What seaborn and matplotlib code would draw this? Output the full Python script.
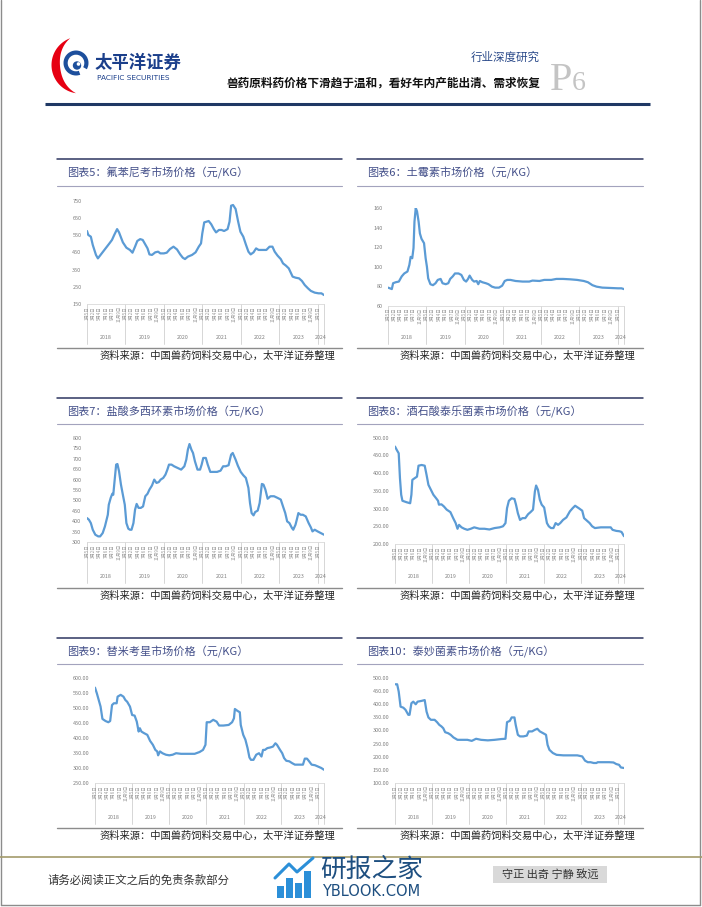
import matplotlib
matplotlib.use("Agg")
import matplotlib.pyplot as plt
from matplotlib.patches import Circle, Polygon, Rectangle, Wedge
import numpy as np
import pandas as pd
import seaborn as sns

# ---- data: months since Jan 2018, price (元/KG) ----
FLOR_M = [0, 0.4, 1.2, 1.8, 2.8, 3.4, 4.6, 5.8, 7.0, 7.8, 8.5, 9.4, 10, 11.2, 12.3,
          13.4, 14.2, 15, 15.7, 16.6, 17.4, 18.2, 18.9, 19.5, 20.3, 21.3, 22.2, 22.9, 24, 24.9,
          25.9, 27, 28.1, 29.1, 29.9, 30.6, 31.5, 32.8, 33.9, 34.9, 35.6, 36, 36.6, 38, 38.8,
          39.6, 40.3, 41.2, 42, 42.8, 43.9, 44.5, 45, 45.6, 46.4, 47.2, 47.9, 48.8, 49.6, 50.4,
          51.1, 52, 52.8, 53.6, 54.6, 56, 57, 57.9, 58.6, 59.5, 60.5, 61.2, 62.1, 63, 64.2,
          65.1, 66.2, 67.1, 68, 69, 69.9, 71.1, 72.3, 73.2, 74]
FLOR_P = [574, 551, 541, 493, 435, 415, 444, 473, 502, 522, 551, 585, 566, 508, 477,
          464, 448, 483, 516, 527, 522, 496, 473, 438, 435, 450, 454, 444, 444, 448,
          469, 483, 467, 438, 419, 411, 425, 435, 450, 483, 502, 560, 624, 632, 613,
          585, 566, 580, 580, 574, 585, 628, 721, 725, 702, 628, 570, 541, 496, 454,
          438, 450, 473, 464, 464, 464, 483, 483, 454, 431, 411, 386, 373, 357, 309,
          303, 299, 284, 260, 241, 226, 216, 212, 212, 202]

OXY_M = [0, 0.6, 1.2, 1.6, 2.4, 3.4, 4.3, 5.1, 6.1, 6.7, 7.1, 7.6, 8, 8.3, 8.7,
         9.1, 9.6, 10, 10.5, 11.3, 11.8, 12.2, 12.6, 13.3, 14.1, 14.9, 15.6, 16.5, 17.1, 18.1,
         18.9, 19.5, 20.3, 21, 22.1, 23, 23.8, 24.5, 25.1, 25.6, 26.4, 27, 27.8, 28.3, 28.8,
         29.6, 30.7, 31.5, 32.6, 33.6, 34.8, 35.8, 36.6, 37.4, 38.4, 40, 42.2, 44.3, 45.3, 47.5,
         49, 51.2, 52.8, 54.9, 57.1, 59.3, 61.4, 62.7, 64.1, 65.4, 67.2, 69.4, 72.1, 73.2, 74]
OXY_P = [78.5, 77.8, 77, 83, 84, 84.7, 90, 93, 95, 101.8, 110, 108.6, 119, 146, 160,
         156.6, 146, 134, 128.5, 124, 108.6, 100, 88, 82, 81, 83, 86.4, 87.4, 83, 82,
         83, 87.4, 90, 93, 93, 91.5, 86.4, 84.7, 87.4, 90.8, 86.4, 84.7, 85.3, 82, 85.3,
         84, 83, 82, 79.5, 78.5, 78.5, 80.5, 85.3, 86.4, 86.4, 85.3, 84.7, 84.7, 85.7, 85.3,
         86.4, 86.4, 87.4, 87.4, 87, 86.4, 85.3, 84, 81, 79.5, 78.5, 78.2, 77.8, 77.8, 77]

DOXY_M = [0, 0.6, 1.2, 1.8, 2.6, 3.5, 4.1, 4.9, 5.6, 6.5, 6.8, 7.4, 7.9, 8.2, 8.6,
          9.1, 9.5, 10, 10.6, 11.2, 11.8, 12.3, 12.9, 13.4, 13.9, 14.5, 15, 15.5, 16.1, 16.8,
          17.5, 18.2, 18.9, 19.5, 20.3, 21, 21.7, 22.4, 23, 23.8, 24.5, 25.1, 25.6, 26.4, 27.2,
          28.3, 29.4, 30.4, 31, 31.5, 32, 32.6, 33.1, 33.7, 34.5, 35.3, 35.8, 36.3, 37.1, 37.7,
          38.5, 39.6, 40.6, 41.7, 42.5, 43.3, 44.2, 45, 45.5, 46.4, 47.1, 48, 48.8, 49.6, 50.4,
          50.9, 51.4, 52, 52.5, 53.3, 53.9, 54.6, 55.1, 55.7, 56.4, 57.3, 58.4, 59.5, 60.5, 61.2,
          61.9, 62.5, 63.2, 64, 64.4, 65.1, 65.5, 66, 66.7, 67.4, 68.3, 69.2, 69.9, 70.4, 71.1,
          72, 73, 74]
DOXY_P = [415, 407, 391, 359, 335, 327, 327, 343, 375, 431, 479, 512, 532, 527, 592,
          672, 675, 640, 576, 527, 479, 391, 364, 359, 359, 391, 455, 483, 464, 464,
          471, 520, 532, 552, 572, 600, 584, 588, 600, 608, 624, 648, 672, 672, 664,
          656, 648, 664, 696, 744, 771, 744, 728, 688, 648, 648, 672, 704, 704, 672,
          637, 637, 637, 643, 664, 664, 669, 720, 728, 696, 667, 637, 621, 608, 560,
          487, 439, 428, 444, 451, 487, 579, 576, 552, 508, 520, 520, 512, 504, 471,
          439, 399, 391, 367, 359, 383, 407, 439, 431, 431, 423, 391, 370, 351, 359,
          351, 343, 335]

TYL_M = [0, 0.6, 1.2, 1.6, 2, 2.4, 3.7, 4.9, 5.3, 5.6, 6.4, 7.1, 7.6, 8.6, 9.6,
         10.2, 10.8, 11.6, 12.4, 13.3, 13.9, 14.2, 15, 15.8, 16.7, 17.9, 18.8, 19.6, 20.2, 20.7,
         21.5, 22.4, 23.4, 24.5, 25.6, 27.3, 28.9, 30.5, 32.2, 33.8, 34.9, 35.7, 36.2, 36.8, 37.7,
         38.6, 39.1, 39.7, 40.4, 41.2, 42.1, 43, 43.8, 44.6, 45.2, 45.6, 46.2, 46.8, 47.4, 48.2,
         48.8, 49.1, 49.7, 50.4, 51.2, 51.9, 52.7, 53.4, 54.3, 55.4, 56.5, 57.4, 58.2, 59.4, 60.5,
         61.1, 62, 62.9, 63.7, 64.6, 66.5, 68.3, 69.7, 70.3, 71.5, 72.5, 73.2, 74]
TYL_P = [475, 465, 456, 386, 339, 322, 318, 315, 339, 381, 386, 390, 421, 423, 421,
         395, 367, 353, 339, 329, 322, 311, 312, 306, 297, 290, 273, 259, 243, 254,
         247, 243, 240, 243, 247, 243, 243, 241, 245, 247, 250, 259, 301, 322, 329,
         327, 311, 287, 268, 273, 273, 284, 290, 297, 348, 365, 353, 325, 311, 303,
         273, 259, 250, 245, 245, 259, 254, 259, 268, 275, 292, 301, 308, 301, 294,
         273, 266, 259, 250, 245, 247, 247, 247, 240, 237, 236, 234, 222]

TIL_M = [0, 0.6, 1.2, 1.8, 2.4, 3.4, 4.3, 4.9, 5.5, 6.1, 7, 7.3, 8.3, 9.2, 9.8,
         10.4, 11.3, 12, 12.8, 13.5, 14.1, 14.5, 15, 15.8, 16.9, 17.8, 18.7, 19.5, 20.1, 20.4,
         21, 21.8, 22.9, 24, 25.1, 26.2, 27.8, 30, 32.2, 33.8, 34.9, 35.7, 36.1, 37.1, 38.2,
         39.3, 40.1, 41.5, 43.2, 44.3, 44.9, 45.2, 46, 46.8, 47.1, 47.9, 48.6, 49.3, 49.9, 50.4,
         51.2, 52.1, 53, 53.8, 54.3, 54.9, 55.7, 56.6, 57.5, 58.3, 58.8, 59.8, 60.5, 61.1, 61.8,
         62.8, 63.7, 64.6, 66, 67.2, 67.8, 68.5, 69.2, 70, 71.1, 72, 73.1, 74]
TIL_P = [567, 548, 526, 504, 463, 456, 452, 456, 509, 515, 515, 537, 543, 537, 526,
         520, 504, 476, 474, 454, 421, 432, 421, 416, 410, 390, 377, 360, 355, 342,
         355, 349, 344, 342, 344, 349, 347, 347, 347, 353, 360, 377, 452, 452, 460,
         454, 441, 441, 443, 452, 465, 496, 490, 485, 443, 410, 394, 366, 335, 327,
         327, 344, 349, 338, 360, 360, 366, 368, 371, 382, 377, 360, 349, 333, 324,
         322, 316, 311, 311, 311, 331, 331, 322, 311, 309, 305, 300, 294]

TIA_M = [0, 0.7, 1.2, 1.8, 2.7, 3.4, 4.3, 4.7, 5.3, 5.9, 6.7, 7.3, 8.6, 9.6, 10.2,
         10.8, 11.6, 12.8, 13.6, 14.3, 15, 15.6, 16.2, 17.2, 18, 18.9, 20.2, 21.8, 23.4, 24.8,
         26.2, 27.8, 30, 32.2, 34.4, 35.7, 36.2, 37.1, 37.7, 38.6, 39, 39.7, 40.4, 41.5, 42.6,
         43.2, 44.3, 45.2, 46, 46.8, 47.9, 48.8, 49.3, 49.9, 51, 52.2, 54.4, 56.6, 58.9, 60.5,
         61.4, 62.3, 63.2, 64.2, 65.1, 65.5, 67.4, 69.2, 70.6, 71.5, 72.4, 73, 74]
TIA_P = [475, 475, 447, 390, 386, 378, 359, 359, 403, 409, 399, 409, 412, 415, 371,
         349, 340, 340, 331, 321, 315, 308, 293, 289, 283, 273, 264, 264, 264, 260,
         268, 264, 262, 264, 267, 268, 331, 336, 349, 349, 321, 283, 277, 277, 280,
         296, 296, 302, 306, 296, 289, 283, 245, 226, 214, 207, 205, 205, 205, 201,
         185, 179, 179, 176, 176, 179, 179, 179, 178, 172, 169, 159, 157]

YEARS = ["2018", "2019", "2020", "2021", "2022", "2023", "2024"]
YEAR_START = [0, 12, 24, 36, 48, 60, 72]
END_MONTH = 74
TICK_LABELS = ["1月5日", "3月2日", "5月4日", "7月6日", "9月7日", "11月9日"]
SOURCE = "资料来源：中国兽药饲料交易中心，太平洋证券整理"

W, H = 702, 907
LINE = "#5b9bd5"
GRAY = "#7f7f7f"

sns.set_theme(style="white")
plt.rcParams["font.family"] = ["Noto Sans CJK SC", "DejaVu Sans"]

fig = plt.figure(figsize=(W / 100, H / 100), dpi=100)
bg = fig.add_axes([0, 0, 1, 1])
bg.set_xlim(0, W)
bg.set_ylim(H, 0)
bg.axis("off")

# page frame
bg.plot([1, 1], [0, 905], color="#8c8c8c", lw=1)
bg.plot([700, 700], [0, 905], color="#8c8c8c", lw=1)
bg.plot([1, 700], [905, 905], color="#8c8c8c", lw=1)

# ---- header ----
t = np.linspace(110, 262, 60)
frac = (t - t[0]) / (t[-1] - t[0])
thick = 8.5 * np.sin(np.pi * frac)
cx, cy, R = 80, 65, 28.5
outer = np.c_[cx + R * np.cos(np.radians(t)), cy - R * np.sin(np.radians(t))]
inner = np.c_[cx + (R - thick) * np.cos(np.radians(t)), cy - (R - thick) * np.sin(np.radians(t))]
bg.add_patch(Polygon(np.vstack([outer, inner[::-1]]), closed=True, color="#e60012", lw=0))
bg.add_patch(Wedge((76, 63), 12.5, 70, 390, width=4.2, color="#1d4f9c", lw=0))
bg.add_patch(Circle((77, 65.5), 4.2, color="#1d4f9c", lw=0))
bg.add_patch(Circle((78.5, 64), 1.8, color="white", lw=0))

bg.text(95, 63, "太平洋证券", fontsize=12.5, fontweight="bold", color="#1b3f8b",
        ha="left", va="center")
bg.text(97, 77.5, "PACIFIC SECURITIES", fontsize=5.3, color="#1b3f8b",
        family=["DejaVu Sans"], ha="left", va="center")
bg.text(540, 57, "行业深度研究", fontsize=8.3, color="#2b4a8a", ha="right", va="center")
bg.text(540, 83, "兽药原料药价格下滑趋于温和，看好年内产能出清、需求恢复", fontsize=8.4,
        fontweight="bold", color="#111111", ha="right", va="center")
bg.text(550, 90, "P", fontsize=29, color="#c4c4c4", family=["Liberation Serif"],
        ha="left", va="baseline")
bg.text(572, 90, "6", fontsize=20, color="#c4c4c4", family=["Liberation Serif"],
        ha="left", va="baseline")
bg.plot([45, 650], [104, 104], color="#1f3864", lw=2.2, solid_capstyle="butt")

# ---- panels ----
ROW_Y = [
    dict(top=159, title=173, sub=186, year=337.5, bottom=348, source=355.5),
    dict(top=398, title=412, sub=424, year=577, bottom=588, source=595.5),
    dict(top=638, title=652, sub=664, year=817.5, bottom=828, source=835.5),
]
COL_X = [dict(frame=(57, 342), title=67, source=100),
         dict(frame=(357, 643), title=367, source=400)]

PANELS = [
    ("图表5：氟苯尼考市场价格（元/KG）", FLOR_M, FLOR_P, list(range(150, 751, 100)), "{:.0f}",
     (87, 324, 200.7, 304), 0, 0),
    ("图表6：土霉素市场价格（元/KG）", OXY_M, OXY_P, list(range(60, 161, 20)), "{:.0f}",
     (388, 624, 208, 305.7), 0, 1),
    ("图表7：盐酸多西环素市场价格（元/KG）", DOXY_M, DOXY_P, list(range(300, 801, 50)), "{:.0f}",
     (87, 324, 438, 542), 1, 0),
    ("图表8：酒石酸泰乐菌素市场价格（元/KG）", TYL_M, TYL_P, list(range(200, 501, 50)), "{:.2f}",
     (395, 624, 437.7, 544), 1, 1),
    ("图表9：替米考星市场价格（元/KG）", TIL_M, TIL_P, list(range(250, 601, 50)), "{:.2f}",
     (95, 324, 677.7, 783), 2, 0),
    ("图表10：泰妙菌素市场价格（元/KG）", TIA_M, TIA_P, list(range(100, 501, 50)), "{:.2f}",
     (395, 624, 677.7, 783), 2, 1),
]

tick_pos = list(range(0, END_MONTH, 2))
tick_lab = [TICK_LABELS[(m // 2) % len(TICK_LABELS)] for m in tick_pos]

for title, months, prices, yticks, fmt, (L, Rr, T, B), row, col in PANELS:
    ry, cxs = ROW_Y[row], COL_X[col]
    x0, x1 = cxs["frame"]
    bg.plot([x0, x1], [ry["top"], ry["top"]], color="#2e3560", lw=1.1)
    bg.plot([x0, x1], [ry["sub"], ry["sub"]], color="#a3a3bd", lw=0.8)
    bg.plot([x0, x1], [ry["bottom"], ry["bottom"]], color="#8c8c8c", lw=1.0)
    bg.text(cxs["title"], ry["title"], title, fontsize=8, color="#44508a",
            ha="left", va="center")
    bg.text(cxs["source"], ry["source"], SOURCE, fontsize=7.4, color="#222222",
            ha="left", va="center")

    ax = fig.add_axes([L / W, 1 - B / H, (Rr - L) / W, (B - T) / H])
    ax.set_facecolor("none")
    df = pd.DataFrame({"month": months, "price": prices})
    sns.lineplot(data=df, x="month", y="price", ax=ax, color=LINE, linewidth=1.6)
    ax.set_xlim(0, END_MONTH)
    ax.set_ylim(yticks[0], yticks[-1])
    ax.set_yticks(yticks)
    ax.set_yticklabels([fmt.format(v) for v in yticks])
    ax.set_xticks(tick_pos)
    ax.set_xticklabels(tick_lab, rotation=90)
    ax.tick_params(axis="y", labelsize=4, labelcolor=GRAY, length=0, pad=4)
    ax.tick_params(axis="x", labelsize=3.2, labelcolor="#9a9a9a", length=0, pad=1.5)
    ax.set_xlabel("")
    ax.set_ylabel("")
    for s in ["top", "right", "left"]:
        ax.spines[s].set_visible(False)
    ax.spines["bottom"].set_color("#d9d9d9")
    ax.spines["bottom"].set_linewidth(0.6)

    # year row beneath the date labels
    bounds = YEAR_START + [END_MONTH]
    for b in bounds:
        px = L + b / END_MONTH * (Rr - L)
        bg.plot([px, px], [B, ry["year"] + 6], color="#d0d0d0", lw=0.6)
    for i, yr in enumerate(YEARS):
        c = (bounds[i] + bounds[i + 1]) / 2
        px = L + c / END_MONTH * (Rr - L)
        bg.text(px, ry["year"], yr, fontsize=3.8, color=GRAY, ha="center", va="center")

# ---- footer ----
bg.plot([0, 702], [857, 857], color="#a39b6b", lw=1.2)
bg.text(48, 880, "请务必阅读正文之后的免责条款部分", fontsize=8.2, color="#333333",
        ha="left", va="center")
for bx, bh in [(277, 12), (286, 20), (295, 15), (304, 27)]:
    bg.add_patch(Rectangle((bx, 898 - bh), 6.5, bh, color="#2b8fd8", lw=0))
bg.plot([275, 289, 297, 313], [878, 864, 872, 858], color="#2b8fd8", lw=2.2)
bg.text(320, 870, "研报之家", fontsize=18.5, color="#1e4f80", ha="left", va="center")
bg.text(322, 891.5, "YBLOOK.COM", fontsize=10.5, color="#1e4f80",
        family=["DejaVu Sans"], ha="left", va="center")
bg.add_patch(Rectangle((493, 866), 114, 17, color="#d9d9d9", lw=0))
bg.text(550, 874.5, "守正 出奇 宁静 致远", fontsize=8, color="#333333",
        ha="center", va="center")

fig.savefig("out.png", dpi=100)
